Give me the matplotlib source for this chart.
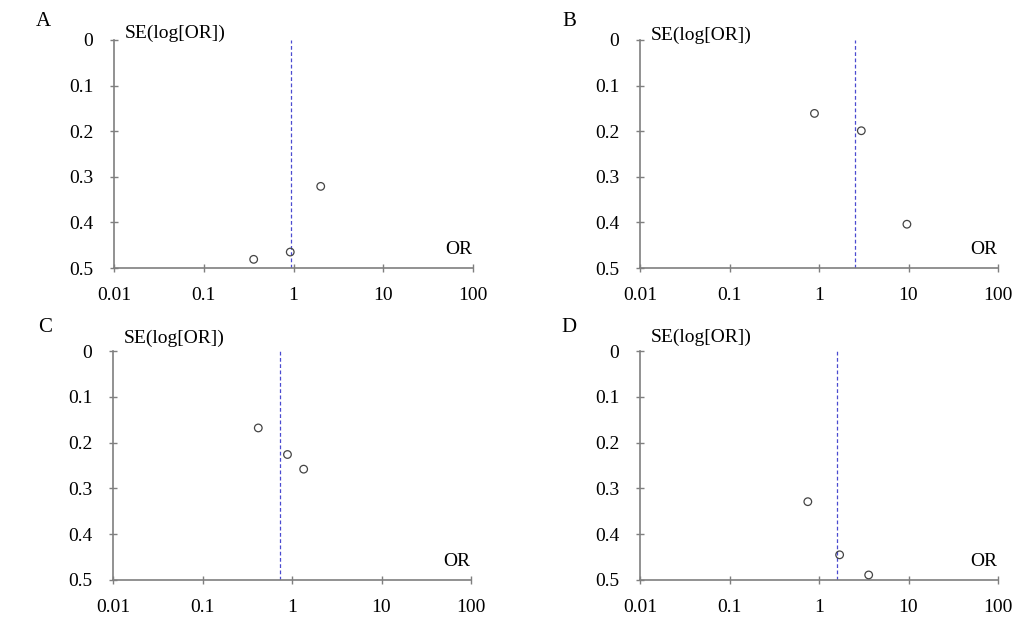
import matplotlib.pyplot as plt
from matplotlib.ticker import FixedLocator, NullLocator

plt.rcParams['font.family'] = ['Liberation Serif', 'DejaVu Serif']

# Panel data: odds ratio vs SE(log[OR])
panel_labels = ['A', 'B', 'C', 'D']
or_values = {
    'A': [2.01, 0.36, 0.92],
    'B': [0.89, 2.97, 9.6],
    'C': [0.42, 0.89, 1.35],
    'D': [0.75, 1.70, 3.59],
}
se_values = {
    'A': [0.321, 0.481, 0.465],
    'B': [0.161, 0.199, 0.404],
    'C': [0.168, 0.226, 0.258],
    'D': [0.329, 0.445, 0.489],
}
pooled_or = {'A': 0.94, 'B': 2.54, 'C': 0.73, 'D': 1.59}

x_ticks = [0.01, 0.1, 1, 10, 100]
x_ticklabels = ['0.01', '0.1', '1', '10', '100']
y_ticks = [0, 0.1, 0.2, 0.3, 0.4, 0.5]
y_ticklabels = ['0', '0.1', '0.2', '0.3', '0.4', '0.5']

W, H = 1024, 625
# axes boxes in pixels: left, right, top, bottom
boxes = {
    'A': (114, 473, 40, 268),
    'B': (640, 998, 40, 268),
    'C': (113, 471, 351, 580),
    'D': (640, 998, 351, 580),
}
letter_pos = {'A': (43, 22), 'B': (569, 22), 'C': (45, 327), 'D': (569, 327)}
# how far (px) the SE label sits above the top of the y axis
se_lift = {'A': 7, 'B': 5, 'C': 13, 'D': 14}

fig = plt.figure(figsize=(W / 100, H / 100), dpi=100)
axis_color = '#7f7f7f'

for p in panel_labels:
    l, r, t, b = boxes[p]
    ax = fig.add_axes([l / W, 1 - b / H, (r - l) / W, (b - t) / H])
    ax.set_xscale('log')
    ax.set_xlim(0.01, 100)
    ax.set_ylim(0.5, 0)

    ax.axvline(pooled_or[p], color='#4b4bd0', linestyle='--', linewidth=0.9,
               dashes=(3, 2))
    ax.scatter(or_values[p], se_values[p], s=30, facecolors='none',
               edgecolors='#444444', linewidths=0.9, zorder=3)

    for side in ['top', 'right']:
        ax.spines[side].set_visible(False)
    for side in ['left', 'bottom']:
        ax.spines[side].set_color(axis_color)
        ax.spines[side].set_linewidth(1.2)

    ax.xaxis.set_major_locator(FixedLocator(x_ticks))
    ax.xaxis.set_minor_locator(NullLocator())
    ax.set_xticklabels(x_ticklabels)
    ax.set_yticks(y_ticks)
    ax.set_yticklabels(y_ticklabels)
    ax.tick_params(axis='both', direction='inout', length=6, width=1,
                   color=axis_color, labelsize=14, labelcolor='black')
    ax.tick_params(axis='x', pad=11)
    ax.tick_params(axis='y', pad=12)

    ax.text(0.03, 1.0 + se_lift[p] / (b - t), 'SE(log[OR])',
            transform=ax.transAxes, fontsize=14, ha='left', va='center')
    ax.text(0.96, 0.08, 'OR', transform=ax.transAxes, fontsize=14,
            ha='center', va='center')

    lx, ly = letter_pos[p]
    fig.text(lx / W, 1 - ly / H, p, fontsize=15, ha='center', va='center')

fig.savefig('out.png', dpi=100)
